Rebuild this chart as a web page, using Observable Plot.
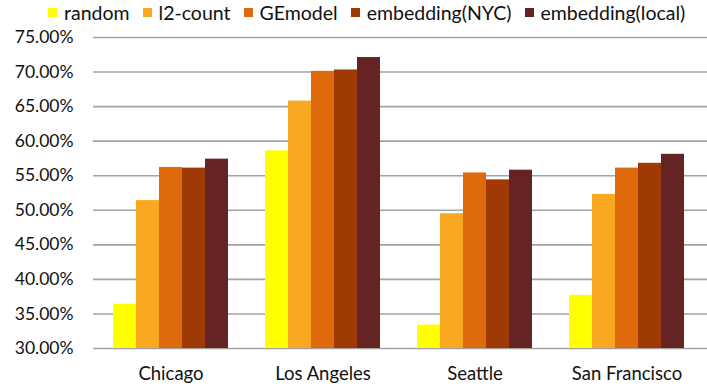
<!DOCTYPE html>
<html>
<head>
<meta charset="utf-8">
<script src="https://cdn.jsdelivr.net/npm/d3@7"></script>
<script src="https://cdn.jsdelivr.net/npm/@observablehq/plot@0.6"></script>
<style>
  html, body { margin: 0; padding: 0; background: #fff; }
  body { width: 707px; height: 390px; font-family: Lato, "Open Sans", sans-serif; color: #111; }
  #legend { height: 25px; display: flex; align-items: center; padding-left: 48px; font-size: 19.5px; white-space: nowrap; }
  #legend .item { display: flex; align-items: center; margin-right: 13px; }
  #legend .sw { width: 9px; height: 9px; margin-right: 7px; }
  #wrap { position: relative; width: 707px; height: 365px; }
  #wrap svg { position: absolute; left: 0; top: 0; }
</style>
</head>
<body>
<div id="legend"></div>
<div id="wrap"></div>
<script>
const cities = ["Chicago", "Los Angeles", "Seattle", "San Francisco"];
const methods = ["random", "l2-count", "GEmodel", "embedding(NYC)", "embedding(local)"];
const colors = ["#ffff00", "#f9a822", "#de6a0c", "#a03a05", "#652323"];
const randomVals   = [36.4, 58.6, 33.4, 37.7];
const l2countVals  = [51.4, 65.8, 49.5, 52.3];
const gemodelVals  = [56.2, 70.1, 55.4, 56.1];
const nycVals      = [56.1, 70.3, 54.4, 56.8];
const localVals    = [57.4, 72.1, 55.8, 58.1];
const yTicks = [30, 35, 40, 45, 50, 55, 60, 65, 70, 75];

const series = [randomVals, l2countVals, gemodelVals, nycVals, localVals];
const data = [];
cities.forEach((c, i) => methods.forEach((m, j) => data.push({city: c, method: m, value: series[j][i]})));

// legend
const legend = document.getElementById("legend");
methods.forEach((m, j) => {
  const it = document.createElement("div"); it.className = "item";
  const sw = document.createElement("span"); sw.className = "sw"; sw.style.background = colors[j];
  const tx = document.createElement("span"); tx.textContent = m;
  it.appendChild(sw); it.appendChild(tx); legend.appendChild(it);
});

const H = 365, MT = 12, MB = 42, ML = 93;
const yScale = {domain: [30, 75], ticks: yTicks};
const font = "Lato, 'Open Sans', sans-serif";

// background: y axis and grid spanning the whole plot width
const grid = Plot.plot({
  width: 707, height: H, marginLeft: ML, marginRight: 0, marginTop: MT, marginBottom: MB,
  style: {fontFamily: font},
  y: {...yScale, label: null},
  marks: [
    Plot.ruleY(yTicks, {stroke: "#a3a3a3", strokeWidth: 1.6}),
    Plot.axisY(yTicks, {tickSize: 0, tickPadding: 20, fontSize: 17.5, tickFormat: d => d.toFixed(2) + "%", label: null, fill: "#111"})
  ]
});

const chart = Plot.plot({
  width: 707, height: H, marginLeft: ML, marginRight: 3, marginTop: MT, marginBottom: MB,
  style: {background: "transparent", fontFamily: font},
  fx: {domain: cities, paddingInner: 0.214, paddingOuter: 0.107, label: null},
  x: {domain: methods, padding: 0, axis: null},
  y: {...yScale, axis: null},
  color: {domain: methods, range: colors},
  marks: [
    Plot.barY(data, {fx: "city", x: "method", y1: 30, y2: "value", fill: "method"}),
    Plot.axisFx({anchor: "bottom", tickSize: 0, tickPadding: 18, fontSize: 18.5, label: null, fill: "#111"})
  ]
});

const wrap = document.getElementById("wrap");
wrap.appendChild(grid);
wrap.appendChild(chart);
</script>
</body>
</html>
